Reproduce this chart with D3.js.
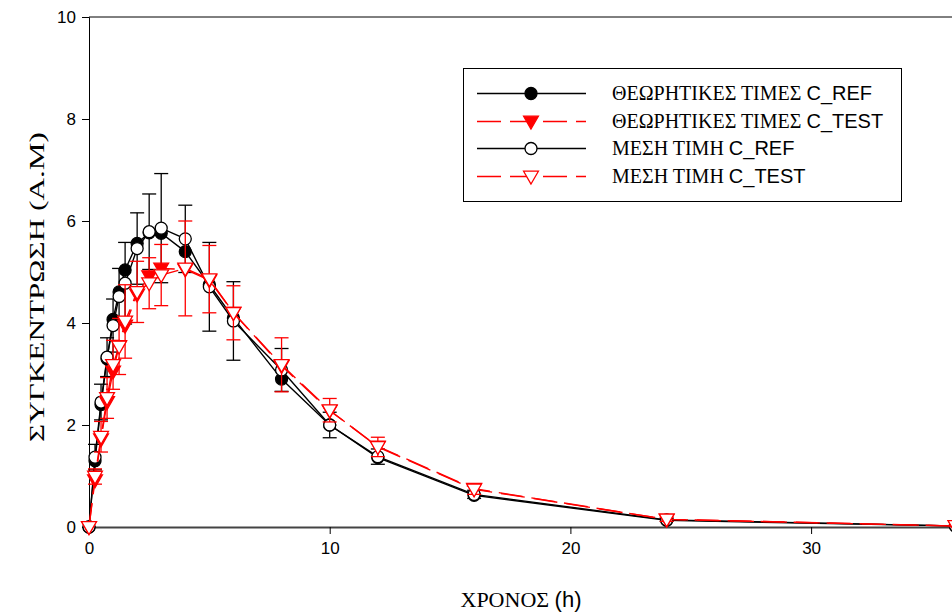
<!DOCTYPE html>
<html>
<head>
<meta charset="utf-8">
<script src="https://cdn.jsdelivr.net/npm/d3@7"></script>
<style>
  html, body { margin: 0; padding: 0; background: #fff; }
  svg { display: block; }
</style>
</head>
<body>
<svg id="chart" width="952" height="612"></svg>
<script>
// Sampling times (h)
const times = [0, 0.25, 0.5, 0.75, 1, 1.25, 1.5, 2, 2.5, 3, 4, 5, 6, 8, 10, 12, 16, 24, 36];

// Theoretical (model) concentrations
const theoRef  = [0, 1.30, 2.40, 3.30, 4.07, 4.61, 5.04, 5.56, 5.77, 5.76, 5.40, 4.75, 4.10, 2.90, 2.00, 1.36, 0.62, 0.13, 0.02];
const theoTest = [0, 0.92, 1.72, 2.45, 3.05, 3.55, 3.95, 4.56, 4.92, 5.07, 5.05, 4.84, 4.20, 3.16, 2.28, 1.58, 0.75, 0.15, 0.02];

// Mean observed concentrations and their standard deviations
const meanRef  = [0, 1.37, 2.45, 3.33, 3.95, 4.52, 4.78, 5.46, 5.79, 5.86, 5.65, 4.71, 4.04, 3.08, 2.00, 1.38, 0.64, 0.14, 0.02];
const sdRef    = [0, 0.25, 0.35, 0.38, 0.52, 0.55, 0.80, 0.70, 0.74, 1.07, 0.66, 0.87, 0.77, 0.42, 0.25, 0.15, 0.08, 0.03, 0.01];
const meanTest = [0, 0.99, 1.77, 2.53, 3.18, 3.54, 4.03, 4.61, 4.78, 4.94, 5.07, 4.86, 4.20, 3.18, 2.29, 1.57, 0.74, 0.15, 0.02];
const sdTest   = [0, 0.15, 0.30, 0.40, 0.48, 0.55, 0.72, 0.60, 0.50, 0.60, 0.93, 0.66, 0.53, 0.53, 0.23, 0.19, 0.10, 0.04, 0.01];

// Axis ticks and labels
const xTicks = [0, 10, 20, 30];
const yTicks = [0, 2, 4, 6, 8, 10];
const xTitle = ["ΧΡΟΝΟΣ ", "(h)"];
const yTitle = "ΣΥΓΚΕΝΤΡΩΣΗ (Α.Μ)";
const legendLabels = [
  ["ΘΕΩΡΗΤΙΚΕΣ ΤΙΜΕΣ ", "C_REF"],
  ["ΘΕΩΡΗΤΙΚΕΣ ΤΙΜΕΣ ", "C_TEST"],
  ["ΜΕΣΗ ΤΙΜΗ ", "C_REF"],
  ["ΜΕΣΗ ΤΙΜΗ ", "C_TEST"]
];

const SERIF = "'Liberation Serif', 'Times New Roman', serif";
const SANS = "'Liberation Sans', Arial, sans-serif";
const RED = "#ff0000";
const DASH = "24,9";

const svg = d3.select("#chart");
const plotLeft = 89, plotTop = 17, plotBottom = 527;

const x = d3.scaleLinear().domain([0, 36]).range([plotLeft, plotLeft + 36 * 24.07]);
const y = d3.scaleLinear().domain([0, 10]).range([plotBottom, plotTop]);

// frame line along the top
svg.append("line")
  .attr("x1", plotLeft).attr("x2", 952).attr("y1", plotTop).attr("y2", plotTop)
  .attr("stroke", "#000").attr("stroke-width", 1);

// y axis
const yAxis = svg.append("g")
  .attr("transform", `translate(${plotLeft},0)`)
  .call(d3.axisLeft(y).tickValues(yTicks).tickSize(7).tickPadding(6).tickFormat(d3.format("d")));
yAxis.select(".domain").attr("stroke", "#000");
yAxis.selectAll("text").attr("font-family", SANS).attr("font-size", 17).attr("fill", "#000");

// x axis
const xAxis = svg.append("g")
  .attr("transform", `translate(0,${plotBottom})`)
  .call(d3.axisBottom(x).tickValues(xTicks).tickSize(7).tickPadding(8).tickFormat(d3.format("d")));
xAxis.select(".domain").attr("stroke", "#444").attr("stroke-width", 2);
xAxis.selectAll("text").attr("font-family", SANS).attr("font-size", 17).attr("fill", "#000");

// axis titles
const xt = svg.append("text")
  .attr("x", 521).attr("y", 607)
  .attr("text-anchor", "middle").attr("font-size", 22).attr("fill", "#000");
xt.append("tspan").attr("font-family", SERIF).text(xTitle[0]);
xt.append("tspan").attr("font-family", SANS).text(xTitle[1]);

svg.append("text")
  .attr("transform", "translate(44,287) rotate(-90) scale(1.42,1)")
  .attr("text-anchor", "middle")
  .attr("font-family", SERIF).attr("font-size", 22).attr("fill", "#000")
  .text(yTitle);

// markers
const tri = d3.symbol().type(d3.symbolTriangle).size(95);
function drawCircles(g, vals, fill) {
  g.selectAll(null).data(times).join("circle")
    .attr("cx", d => x(d)).attr("cy", (d, i) => y(vals[i])).attr("r", 6)
    .attr("fill", fill).attr("stroke", "#000").attr("stroke-width", 1.3);
}
function drawTriangles(g, vals, fill) {
  g.selectAll(null).data(times).join("path")
    .attr("d", tri)
    .attr("transform", (d, i) => `translate(${x(d)},${y(vals[i]) - 1}) rotate(180)`)
    .attr("fill", fill).attr("stroke", RED).attr("stroke-width", 1.3);
}
function drawErrors(g, vals, sds, color) {
  times.forEach((t, i) => {
    if (sds[i] <= 0) return;
    const cx = x(t), hi = y(vals[i] + sds[i]), lo = y(vals[i] - sds[i]);
    g.append("line").attr("x1", cx).attr("x2", cx).attr("y1", hi).attr("y2", lo)
      .attr("stroke", color).attr("stroke-width", 1.3);
    [hi, lo].forEach(v => g.append("line")
      .attr("x1", cx - 7).attr("x2", cx + 7).attr("y1", v).attr("y2", v)
      .attr("stroke", color).attr("stroke-width", 1.3));
  });
}
const line = vals => d3.line().x(d => x(d)).y((d, i) => y(vals[i]))(times);

const plot = svg.append("g");

// reference product
drawErrors(plot.append("g"), meanRef, sdRef, "#000");
plot.append("path").attr("d", line(theoRef)).attr("fill", "none").attr("stroke", "#000").attr("stroke-width", 1.4);
drawCircles(plot.append("g"), theoRef, "#000");
plot.append("path").attr("d", line(meanRef)).attr("fill", "none").attr("stroke", "#000").attr("stroke-width", 1.4);
drawCircles(plot.append("g"), meanRef, "#fff");

// test product
drawErrors(plot.append("g"), meanTest, sdTest, RED);
plot.append("path").attr("d", line(theoTest)).attr("fill", "none").attr("stroke", RED).attr("stroke-width", 1.4).attr("stroke-dasharray", DASH);
drawTriangles(plot.append("g"), theoTest, RED);
plot.append("path").attr("d", line(meanTest)).attr("fill", "none").attr("stroke", RED).attr("stroke-width", 1.4).attr("stroke-dasharray", DASH);
drawTriangles(plot.append("g"), meanTest, "#fff");

// legend
const lg = svg.append("g");
lg.append("rect").attr("x", 463.5).attr("y", 68.5).attr("width", 438).attr("height", 133)
  .attr("fill", "#fff").attr("stroke", "#000").attr("stroke-width", 1);
const rowsY = [93.5, 121.5, 148.5, 176.5];
const styles = [
  { color: "#000", dash: null, kind: "circle", fill: "#000" },
  { color: RED, dash: DASH, kind: "tri", fill: RED },
  { color: "#000", dash: null, kind: "circle", fill: "#fff" },
  { color: RED, dash: DASH, kind: "tri", fill: "#fff" }
];
styles.forEach((s, i) => {
  const ry = rowsY[i];
  lg.append("line").attr("x1", 477).attr("x2", 586).attr("y1", ry).attr("y2", ry)
    .attr("stroke", s.color).attr("stroke-width", 1.4)
    .attr("stroke-dasharray", s.dash);
  if (s.kind === "circle") {
    lg.append("circle").attr("cx", 531).attr("cy", ry).attr("r", 6)
      .attr("fill", s.fill).attr("stroke", "#000").attr("stroke-width", 1.3);
  } else {
    lg.append("path").attr("d", tri).attr("transform", `translate(531,${ry - 1}) rotate(180)`)
      .attr("fill", s.fill).attr("stroke", RED).attr("stroke-width", 1.3);
  }
  const t = lg.append("text").attr("x", 612).attr("y", ry + 6.5).attr("font-size", 20).attr("fill", "#000");
  t.append("tspan").attr("font-family", SERIF).text(legendLabels[i][0]);
  t.append("tspan").attr("font-family", SANS).text(legendLabels[i][1]);
});
</script>
</body>
</html>
